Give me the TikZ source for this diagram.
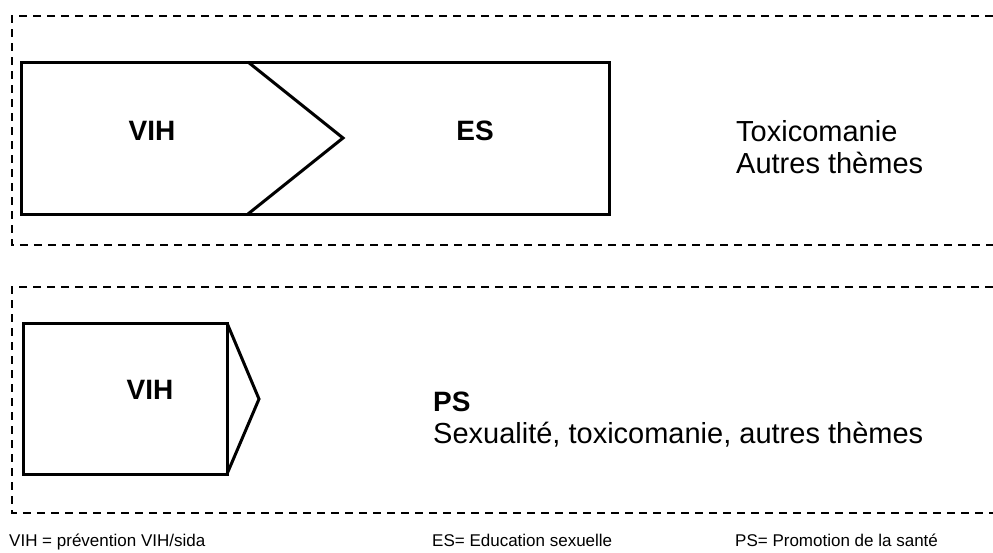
\documentclass[tikz,border=0pt]{standalone}
\usepackage{fontspec}
\setmainfont{Liberation Sans}
\begin{document}
\begin{tikzpicture}[x=1pt,y=-1pt,
  solidline/.style={line width=3pt,line join=miter},
  dashline/.style={line width=2pt,dash pattern=on 8pt off 6pt},
  big/.style={font=\fontsize{29}{31}\selectfont,inner sep=0pt},
  bigb/.style={font=\fontsize{28}{31}\selectfont\bfseries,inner sep=0pt},
  small/.style={font=\fontsize{17}{20}\selectfont,inner sep=0pt,anchor=base west}]
\useasboundingbox[fill=white] (0,0) rectangle (993,552);
% dashed frames
\draw[dashline] (993,16) -- (12,16) -- (12,245) -- (993,245);
\draw[dashline] (993,287) -- (12,287) -- (12,513) -- (993,513);
% top shapes
\draw[solidline] (21,62) rectangle (609,214);
\draw[solidline] (248,62) -- (343,138) -- (248,214);
% bottom shapes
\draw[solidline] (23,323) rectangle (227,474);
\draw[solidline] (227,323) -- (259,399) -- (227,474);
% texts
\node[bigb] (vih1) at (152,131) {VIH};
\node[bigb] (es) at (475,131) {ES};
\node[big,anchor=base west] (tox) at (736,141) {Toxicomanie};
\node[big,anchor=base west] (aut) at (736,173) {Autres thèmes};
\node[bigb] (vih2) at (150,390) {VIH};
\node[bigb,anchor=base west] (ps) at (433,411) {PS};
\node[big,anchor=base west] (sex) at (433,443) {Sexualité, toxicomanie, autres thèmes};
\node[small] (l1) at (9,546) {VIH = prévention VIH/sida};
\node[small] (l2) at (432,546) {ES= Education sexuelle};
\node[small] (l3) at (735,546) {PS= Promotion de la santé};
\end{tikzpicture}
\end{document}
